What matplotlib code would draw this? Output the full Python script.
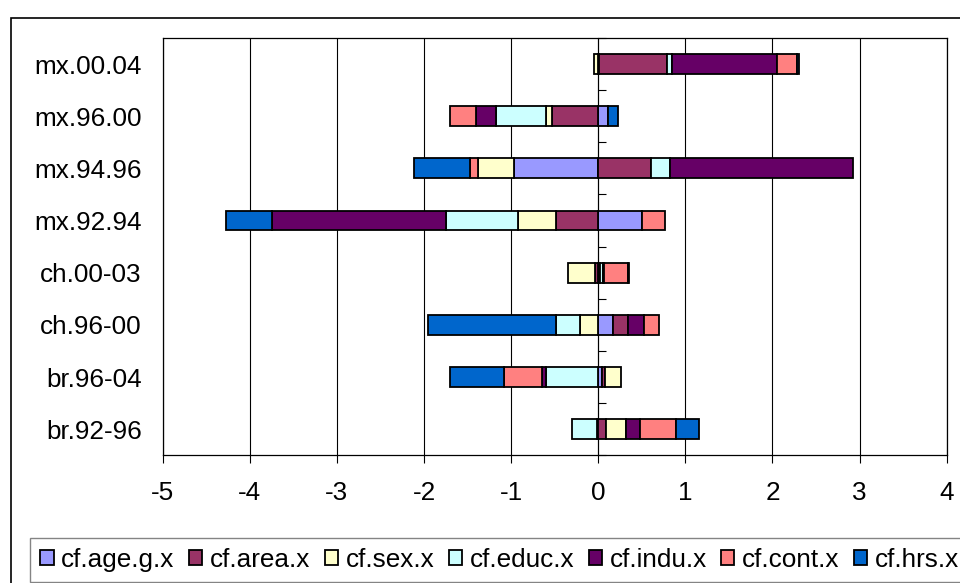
import matplotlib
matplotlib.use("Agg")
import matplotlib.pyplot as plt
import numpy as np
from matplotlib.patches import Rectangle

plt.rcParams['font.family'] = ['Liberation Sans', 'DejaVu Sans']

categories = ["mx.00.04", "mx.96.00", "mx.94.96", "mx.92.94",
              "ch.00-03", "ch.96-00", "br.96-04", "br.92-96"]
series_names = ["cf.age.g.x", "cf.area.x", "cf.sex.x", "cf.educ.x",
                "cf.indu.x", "cf.cont.x", "cf.hrs.x"]
cf_age_g = [0.01, 0.11, -0.97, 0.50, 0.02, 0.17, 0.04, -0.02]
cf_area = [0.78, -0.53, 0.60, -0.48, -0.04, 0.17, 0.04, 0.085]
cf_sex = [-0.05, -0.065, -0.41, -0.44, -0.31, -0.21, 0.185, 0.23]
cf_educ = [0.06, -0.58, 0.22, -0.83, 0.04, -0.27, -0.60, -0.28]
cf_indu = [1.20, -0.23, 2.11, -1.99, 0.01, 0.18, -0.05, 0.165]
cf_cont = [0.23, -0.30, -0.09, 0.27, 0.27, 0.18, -0.43, 0.415]
cf_hrs = [0.02, 0.12, -0.65, -0.53, 0.01, -1.48, -0.62, 0.26]
x_ticks = [-5, -4, -3, -2, -1, 0, 1, 2, 3, 4]

series = [cf_age_g, cf_area, cf_sex, cf_educ, cf_indu, cf_cont, cf_hrs]
colors = ["#9999FF", "#993366", "#FFFFCC", "#CCFFFF", "#660066", "#FF8080", "#0066CC"]

FS = 18.8
W, H = 960, 583
fig = plt.figure(figsize=(W / 100, H / 100), dpi=100)
ax = fig.add_axes([162.7 / W, 1 - 455.3 / H, (946.7 - 162.7) / W, (455.3 - 38) / H])

y = np.arange(len(categories))
pos = np.zeros(len(categories))
neg = np.zeros(len(categories))
for name, vals, col in zip(series_names, series, colors):
    v = np.array(vals, dtype=float)
    left = np.where(v >= 0, pos, neg)
    ax.barh(y, v, left=left, height=0.38, color=col, edgecolor='black',
            linewidth=1.3, label=name, zorder=3)
    pos = pos + np.where(v >= 0, v, 0)
    neg = neg + np.where(v < 0, v, 0)

ax.set_xlim(-5, 4)
ax.set_ylim(len(categories) - 0.5, -0.5)
ax.set_xticks(x_ticks)
ax.set_xticklabels([str(t) for t in x_ticks])
ax.set_yticks(y)
ax.set_yticklabels(categories)
ax.tick_params(axis='y', length=0, pad=15, labelsize=FS)
ax.tick_params(axis='x', direction='out', length=5.8, width=0.8, pad=13, labelsize=FS)
ax.grid(axis='x', color='black', linewidth=0.8, zorder=0)
ax.set_axisbelow(True)
for s in ax.spines.values():
    s.set_color('black')
    s.set_linewidth(0.9)

# category axis at x = 0 with tick marks at category boundaries
sec = ax.secondary_yaxis(5 / 9)
sec.set_yticks(np.arange(-0.5, len(categories) + 0.5, 1.0))
sec.set_yticklabels([])
sec.tick_params(axis='y', direction='out', length=5.8, width=0.8, color='black')
sec.spines['left'].set_color('black')
sec.spines['left'].set_linewidth(1.0)

# outer chart border
fig.add_artist(Rectangle((10.5 / W, -0.2), 2.0, 1.2 - 17.5 / H, transform=fig.transFigure,
                         fill=False, edgecolor='black', linewidth=1.2))

handles, labels = ax.get_legend_handles_labels()
leg = fig.legend(handles, labels, loc='upper left', bbox_to_anchor=(30 / W, 1 - 537.5 / H),
                 ncol=7, frameon=True, fancybox=False, fontsize=FS,
                 handlelength=0.5, handleheight=0.5, handletextpad=0.3,
                 columnspacing=0.55, borderpad=0.4, borderaxespad=0)
leg.get_frame().set_edgecolor('#666666')
leg.get_frame().set_linewidth(1.0)

fig.savefig("out.png", dpi=100)
